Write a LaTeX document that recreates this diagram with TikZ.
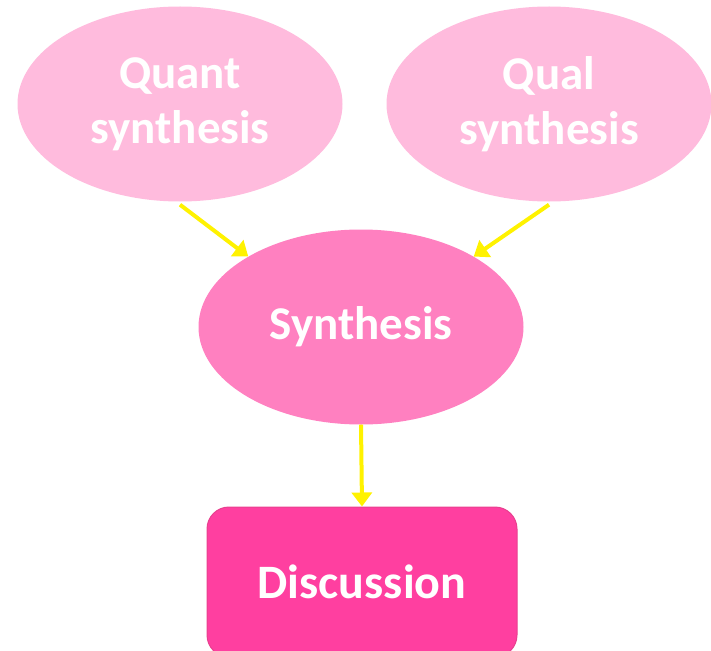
\documentclass[tikz,border=0pt]{standalone}
\usepackage{fontspec}
\setmainfont{Carlito}
\usetikzlibrary{arrows.meta,shapes.geometric}
\definecolor{lightpink}{HTML}{FFBBDD}
\definecolor{midpink}{HTML}{FF80C0}
\definecolor{hotpink}{HTML}{FF3FA0}
\definecolor{hotborder}{HTML}{E8408F}
\begin{document}
\begin{tikzpicture}[x=1pt,y=-1pt,
  ell/.style={ellipse,inner sep=0pt,minimum width=325pt,minimum height=195pt,text=white,font=\fontsize{47}{55}\selectfont\bfseries,align=center},
  conn/.style={draw=yellow,line width=4pt,-{Triangle[length=14pt,width=20pt]}}]
\useasboundingbox (0,0) rectangle (711,650);
\node[ell,fill=lightpink] (quant) at (180,104) {Quant\\synthesis};
\node[ell,fill=lightpink] (qual) at (549,104) {Qual\\synthesis};
\node[ell,fill=midpink] (syn) at (361,327) {Synthesis};
\node[draw=hotborder,line width=1pt,fill=hotpink,rounded corners=22pt,minimum width=310pt,minimum height=150pt,text=white,font=\fontsize{48}{58}\selectfont\bfseries] (disc) at (362,582) {Discussion};
\draw[conn] ([yshift=-3pt]quant.south) -- (syn.148);
\draw[conn] ([yshift=-3pt]qual.south) -- (syn.32);
\draw[conn] (syn.south) -- (disc.north);
\end{tikzpicture}
\end{document}
